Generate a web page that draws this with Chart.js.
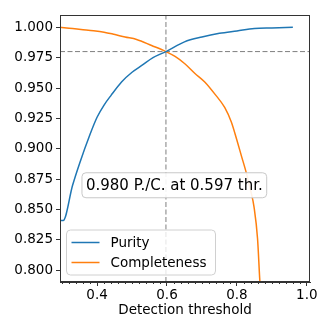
<!DOCTYPE html>
<html>
<head>
<meta charset="utf-8">
<script src="https://cdn.jsdelivr.net/npm/chart.js@4.4.0/dist/chart.umd.min.js"></script>
<style>
  html, body { margin: 0; padding: 0; background: #fff; }
  #wrap { width: 332px; height: 332px; }
</style>
</head>
<body>
<div id="wrap"><canvas id="prChart" width="332" height="332"></canvas></div>
<script>
// purity curve (blue)
const purityThr = [0.294, 0.303, 0.33, 0.35, 0.38, 0.40, 0.42, 0.44, 0.47, 0.50, 0.53, 0.56, 0.597, 0.65, 0.70, 0.75, 0.80, 0.85, 0.90, 0.96];
const purity    = [0.841, 0.841, 0.870, 0.888, 0.912, 0.926, 0.936, 0.944, 0.955, 0.963, 0.969, 0.975, 0.980, 0.988, 0.992, 0.995, 0.997, 0.999, 0.9995, 1.000];

// completeness curve (orange)
const complThr     = [0.294, 0.33, 0.375, 0.42, 0.451, 0.48, 0.513, 0.556, 0.597, 0.623, 0.651, 0.68, 0.708, 0.737, 0.765, 0.784, 0.799, 0.813, 0.827, 0.839, 0.849, 0.859, 0.865, 0.872];
const completeness = [1.000, 0.999, 0.9975, 0.996, 0.994, 0.992, 0.990, 0.985, 0.980, 0.976, 0.970, 0.962, 0.955, 0.945, 0.934, 0.922, 0.908, 0.894, 0.880, 0.866, 0.852, 0.826, 0.794, 0.760];

// crossing point
const bestThr = 0.597;
const bestValue = 0.980;
const annotText = '0.980 P./C. at 0.597 thr.';

// axes
const xRange = [0.294, 1.009];
const yRange = [0.7904, 1.0101];
const xTicks = [0.4, 0.6, 0.8, 1.0];
const xMinorTicks = [0.30, 0.32, 0.34, 0.36, 0.38, 0.42, 0.44, 0.46, 0.48, 0.50, 0.52, 0.54, 0.56, 0.58, 0.62, 0.64, 0.66, 0.68, 0.70, 0.72, 0.74, 0.76, 0.78, 0.82, 0.84, 0.86, 0.88, 0.90, 0.92, 0.94, 0.96, 0.98];
const yTicks = [0.800, 0.825, 0.850, 0.875, 0.900, 0.925, 0.950, 0.975, 1.000];

const FONT = 'DejaVu Sans';
const toPts = (xs, ys) => xs.map((x, i) => ({ x: x, y: ys[i] }));

const extras = {
  id: 'extras',
  afterDatasetsDraw(chart) {
    const { ctx, chartArea: a, scales: { x, y } } = chart;
    ctx.save();

    // frame (all four spines)
    ctx.strokeStyle = '#333';
    ctx.lineWidth = 1;
    ctx.strokeRect(a.left + 0.5, a.top + 0.5, a.right - a.left - 1, a.bottom - a.top - 1);

    // minor ticks on x
    ctx.beginPath();
    xMinorTicks.forEach(v => {
      const px = Math.round(x.getPixelForValue(v)) + 0.5;
      ctx.moveTo(px, a.bottom);
      ctx.lineTo(px, a.bottom + 2);
    });
    ctx.stroke();

    // annotation box
    ctx.font = '15px "' + FONT + '"';
    const tw = ctx.measureText(annotText).width;
    const cx = x.getPixelForValue(0.621);
    const cy = y.getPixelForValue(0.870);
    const bw = tw + 8, bh = 25;
    ctx.beginPath();
    ctx.roundRect(cx - bw / 2, cy - bh / 2, bw, bh, 4);
    ctx.fillStyle = 'rgba(255,255,255,0.9)';
    ctx.fill();
    ctx.strokeStyle = '#c8c8c8';
    ctx.stroke();
    ctx.fillStyle = '#000';
    ctx.textAlign = 'center';
    ctx.textBaseline = 'middle';
    ctx.fillText(annotText, cx, cy + 1);

    // legend, lower left inside the axes
    const items = chart.data.datasets.filter(d => d.inLegend);
    const lx = a.left + 6.5, ly = a.bottom - 52;
    ctx.beginPath();
    ctx.roundRect(lx, ly, 149, 45, 4);
    ctx.fillStyle = 'rgba(255,255,255,0.8)';
    ctx.fill();
    ctx.strokeStyle = '#d0d0d0';
    ctx.stroke();
    ctx.font = '13.5px "' + FONT + '"';
    ctx.textAlign = 'left';
    items.forEach((d, i) => {
      const rowY = ly + 12.5 + i * 20;
      ctx.beginPath();
      ctx.moveTo(lx + 5, rowY);
      ctx.lineTo(lx + 33, rowY);
      ctx.strokeStyle = d.borderColor;
      ctx.lineWidth = 1.5;
      ctx.stroke();
      ctx.fillStyle = '#000';
      ctx.fillText(d.label, lx + 44, rowY + 1);
    });
    ctx.restore();
  }
};

new Chart(document.getElementById('prChart'), {
  type: 'line',
  data: {
    datasets: [
      {
        label: 'Purity',
        inLegend: true,
        data: toPts(purityThr, purity),
        borderColor: '#1f77b4',
        borderWidth: 1.5,
        pointRadius: 0,
        cubicInterpolationMode: 'monotone'
      },
      {
        label: 'Completeness',
        inLegend: true,
        data: toPts(complThr, completeness),
        borderColor: '#ff7f0e',
        borderWidth: 1.5,
        pointRadius: 0,
        cubicInterpolationMode: 'monotone'
      },
      {
        label: 'hline',
        data: toPts(xRange, [bestValue, bestValue]),
        borderColor: '#7f7f7f',
        borderWidth: 1,
        borderDash: [5, 2.5],
        pointRadius: 0
      },
      {
        label: 'vline',
        data: toPts([bestThr, bestThr], yRange),
        borderColor: '#7f7f7f',
        borderWidth: 1,
        borderDash: [5, 2.5],
        pointRadius: 0
      }
    ]
  },
  options: {
    responsive: false,
    animation: false,
    devicePixelRatio: 1,
    layout: { padding: { left: 0, right: 22, top: 15, bottom: 0 } },
    plugins: { legend: { display: false }, tooltip: { enabled: false } },
    scales: {
      x: {
        type: 'linear',
        min: xRange[0],
        max: xRange[1],
        afterBuildTicks: s => { s.ticks = xTicks.map(v => ({ value: v })); },
        afterFit: s => { s.height = 50; },
        ticks: { color: '#000', font: { family: FONT, size: 13.5 }, padding: 1, maxRotation: 0, callback: v => v.toFixed(1) },
        grid: { drawOnChartArea: false, drawTicks: true, tickLength: 4, tickColor: '#333' },
        border: { display: true, color: '#333' },
        title: { display: true, text: 'Detection threshold', color: '#000', font: { family: FONT, size: 13.5 }, padding: { top: 0, bottom: 13 } }
      },
      y: {
        type: 'linear',
        min: yRange[0],
        max: yRange[1],
        afterBuildTicks: s => { s.ticks = yTicks.map(v => ({ value: v })); },
        afterFit: s => { s.width = 60; },
        ticks: { color: '#000', font: { family: FONT, size: 13.5 }, padding: 3, callback: v => v.toFixed(3) },
        grid: { drawOnChartArea: false, drawTicks: true, tickLength: 4, tickColor: '#333' },
        border: { display: true, color: '#333' }
      }
    }
  },
  plugins: [extras]
});
</script>
</body>
</html>
